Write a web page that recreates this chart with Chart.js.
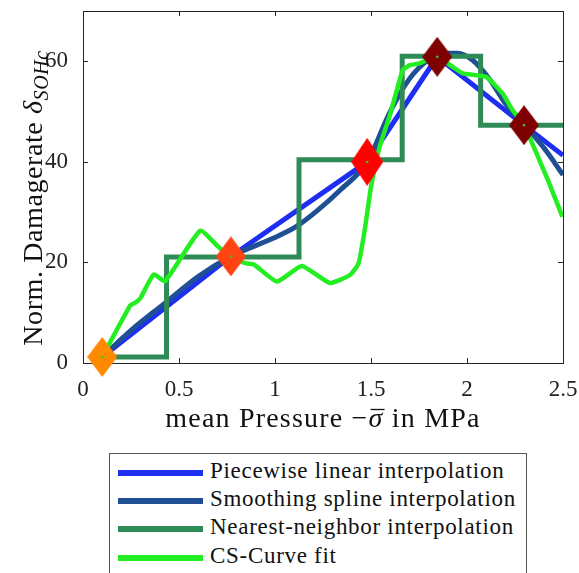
<!DOCTYPE html>
<html>
<head>
<meta charset="utf-8">
<script src="https://cdn.jsdelivr.net/npm/chart.js@4.4.1/dist/chart.umd.min.js"></script>
<style>
  html, body { margin: 0; padding: 0; background: #fff; }
  #wrap { position: relative; width: 579px; height: 573px; overflow: hidden; }
  #chart { position: absolute; left: 0; top: 0; }
  .legend {
    position: absolute; left: 109px; top: 453px; width: 418px; height: 130px;
    border: 1.5px solid #555; background: #fff; box-sizing: border-box;
    font-family: 'Liberation Serif', serif; font-size: 23px; letter-spacing: 0.7px; color: #111;
  }
  .legend .row { position: absolute; left: 0; width: 100%; height: 28px; }
  .legend .swatch { position: absolute; left: 8px; top: 11px; width: 85px; height: 6px; }
  .legend .label { position: absolute; left: 100px; top: -2px; line-height: 28px; white-space: nowrap; }
</style>
</head>
<body>
<div id="wrap">
  <canvas id="chart" width="579" height="573"></canvas>
  <div class="legend" id="legend"></div>
</div>
<script>
// axis ticks
const xTicks = [0, 0.5, 1, 1.5, 2, 2.5];
const yTicks = [0, 20, 40, 60];

// measured damage rates (diamonds)
const measX = [0.1, 0.77, 1.48, 1.845, 2.297];
const measY = [1.2, 21.2, 40, 60.9, 47.3];

// piecewise linear interpolation (extrapolated to 2.5)
const linX = [0.1, 0.77, 1.48, 1.845, 2.297, 2.5];
const linY = [1.2, 21.2, 40, 60.9, 47.3, 41.3];

// smoothing spline
const splX = [0.1, 0.25, 0.43, 0.6, 0.77, 0.99, 1.11, 1.22, 1.34, 1.48, 1.6, 1.7, 1.8, 1.89, 1.95, 2.03, 2.12, 2.2, 2.3, 2.41, 2.5];
const splY = [1.2, 6.5, 12, 17.2, 21.2, 24.8, 27.1, 30.3, 34.4, 40, 50, 56.5, 60.3, 61.6, 61.6, 60.2, 56.3, 51.6, 47.3, 42.3, 37.4];

// nearest neighbour (drawn as middle steps)
const nnX = [0.1, 0.77, 1.48, 1.845, 2.297, 2.5];
const nnY = [1.2, 21.1, 40.4, 61, 47.3, 47.3];

// CS-curve fit
const csX = [0.1, 0.247, 0.273, 0.299, 0.368, 0.428, 0.61, 0.705, 0.77, 0.85, 0.89, 1.01, 1.14, 1.285, 1.39, 1.435, 1.467, 1.5, 1.545, 1.6, 1.665, 1.7, 1.752, 1.844, 1.925, 1.977, 2.1, 2.185, 2.237, 2.297, 2.42, 2.497];
const csY = [1.2, 11.5, 12, 12.9, 17.6, 16.3, 26.3, 23.1, 21, 19.8, 19.6, 16.2, 19.3, 15.9, 17.5, 19.8, 26.4, 35, 43, 49.5, 58.2, 59.2, 59.6, 60.9, 58.9, 57.6, 56.9, 53.6, 50.3, 47.3, 36.5, 29.1];

const seriesNames = ['Piecewise linear interpolation', 'Smoothing spline interpolation', 'Nearest-neighbor interpolation', 'CS-Curve fit'];
const seriesColors = ['#1e2ff2', '#1f4f94', '#2e8b57', '#22ee22'];
const markerColors = ['#ff8a00', '#ff4412', '#ff0000', '#7f0000', '#7f0000'];
const markerSizes = [[15, 20], [15, 20], [16, 24], [15, 20], [15, 20]];

const SERIF = "'Liberation Serif', serif";

const toPts = (xs, ys) => xs.map((x, i) => ({ x: x, y: ys[i] }));

// diamond marker drawn into a small canvas, used as point style
function diamond(color, hw, hh) {
  const c = document.createElement('canvas');
  c.width = hw * 2; c.height = hh * 2;
  const g = c.getContext('2d');
  g.fillStyle = color;
  g.beginPath();
  g.moveTo(hw, 0); g.lineTo(hw * 2, hh); g.lineTo(hw, hh * 2); g.lineTo(0, hh);
  g.closePath(); g.fill();
  g.fillStyle = '#33cc33';
  g.beginPath(); g.arc(hw, hh, 1.3, 0, Math.PI * 2); g.fill();
  return c;
}
const markerImgs = markerColors.map((c, i) => diamond(c, markerSizes[i][0], markerSizes[i][1]));

// box with inward ticks on all four sides
const framePlugin = {
  id: 'frame',
  beforeDatasetsDraw(chart) {
    const { ctx, chartArea: a, scales } = chart;
    ctx.save();
    ctx.strokeStyle = '#262626';
    ctx.lineWidth = 1;
    ctx.strokeRect(Math.round(a.left) + 0.5, Math.round(a.top) + 0.5, Math.round(a.right - a.left), Math.round(a.bottom - a.top));
    const len = 5;
    ctx.beginPath();
    xTicks.forEach(v => {
      const px = Math.round(scales.x.getPixelForValue(v)) + 0.5;
      if (px <= a.left + 1 || px >= a.right - 1) return;
      ctx.moveTo(px, a.bottom); ctx.lineTo(px, a.bottom - len);
      ctx.moveTo(px, a.top); ctx.lineTo(px, a.top + len);
    });
    yTicks.forEach(v => {
      const py = Math.round(scales.y.getPixelForValue(v)) + 0.5;
      if (py <= a.top + 1 || py >= a.bottom - 1) return;
      ctx.moveTo(a.left, py); ctx.lineTo(a.left + len, py);
      ctx.moveTo(a.right, py); ctx.lineTo(a.right - len, py);
    });
    ctx.stroke();
    ctx.restore();
  }
};

// axis titles (overline on sigma, subscript on delta)
const titlePlugin = {
  id: 'titles',
  afterDraw(chart) {
    const { ctx, chartArea: a } = chart;
    ctx.save();
    ctx.fillStyle = '#111';
    ctx.strokeStyle = '#111';
    ctx.textBaseline = 'alphabetic';
    ctx.textAlign = 'left';

    // x title
    ctx.letterSpacing = '1.2px';
    const fX = '28px ' + SERIF;
    const fXi = 'italic 28px ' + SERIF;
    const p1 = 'mean Pressure \u2212', p2 = '\u03C3', p3 = ' in MPa';
    ctx.font = fX; const a1 = ctx.measureText(p1).width;
    ctx.font = fXi; const a2 = ctx.measureText(p2).width;
    ctx.font = fX; const a3 = ctx.measureText(p3).width;
    let xx = (a.left + a.right) / 2 - (a1 + a2 + a3) / 2;
    const base = 427;
    ctx.font = fX; ctx.fillText(p1, xx, base); xx += a1;
    ctx.font = fXi; ctx.fillText(p2, xx, base);
    ctx.lineWidth = 1.3;
    ctx.beginPath(); ctx.moveTo(xx + 2, base - 17.5); ctx.lineTo(xx + a2 + 1, base - 17.5); ctx.stroke();
    xx += a2;
    ctx.font = fX; ctx.fillText(p3, xx, base);

    // y title
    ctx.letterSpacing = '0.6px';
    const main = 'Norm. Damagerate ';
    const fMain = '28px ' + SERIF;
    const fIt = 'italic 28px ' + SERIF;
    const fSub = 'italic 20px ' + SERIF;
    ctx.font = fMain; const w1 = ctx.measureText(main).width;
    ctx.font = fIt; const w2 = ctx.measureText('\u03B4').width;
    ctx.font = fSub; const w3 = ctx.measureText('SOHc').width;
    const total = w1 + w2 + w3;
    ctx.translate(42, (a.top + a.bottom) / 2 + 11);
    ctx.rotate(-Math.PI / 2);
    let x0 = -total / 2;
    ctx.font = fMain; ctx.fillText(main, x0, 0); x0 += w1;
    ctx.font = fIt; ctx.fillText('\u03B4', x0, 0); x0 += w2;
    ctx.font = fSub; ctx.fillText('SOHc', x0, 6);
    ctx.restore();
  }
};

const noPad = s => { s.paddingTop = 0; s.paddingBottom = 0; s.paddingLeft = 0; s.paddingRight = 0; };

const ctx = document.getElementById('chart').getContext('2d');
new Chart(ctx, {
  type: 'line',
  data: {
    datasets: [
      {
        label: seriesNames[0], data: toPts(linX, linY),
        borderColor: seriesColors[0], borderWidth: 5, pointRadius: 0, tension: 0, order: 4
      },
      {
        label: seriesNames[1], data: toPts(splX, splY),
        borderColor: seriesColors[1], borderWidth: 5, pointRadius: 0,
        cubicInterpolationMode: 'monotone', order: 3
      },
      {
        label: seriesNames[2], data: toPts(nnX, nnY),
        borderColor: seriesColors[2], borderWidth: 5, pointRadius: 0, stepped: 'middle', order: 2
      },
      {
        label: seriesNames[3], data: toPts(csX, csY),
        borderColor: seriesColors[3], borderWidth: 4.5, pointRadius: 0, tension: 0.15, order: 1
      },
      {
        label: 'measured', data: toPts(measX, measY),
        showLine: false, pointRadius: 15, pointStyle: markerImgs, clip: false, order: 0
      }
    ]
  },
  options: {
    responsive: false,
    animation: false,
    events: [],
    layout: { autoPadding: false, padding: { left: 0, right: 16, top: 11, bottom: 170 } },
    plugins: { legend: { display: false }, tooltip: { enabled: false } },
    scales: {
      x: {
        type: 'linear', min: 0, max: 2.5,
        grid: { display: false }, border: { display: false },
        afterBuildTicks: s => { s.ticks = xTicks.map(v => ({ value: v })); },
        afterFit: s => { s.height = 40; noPad(s); },
        ticks: {
          padding: 5, maxRotation: 0, color: '#222',
          font: { family: SERIF, size: 23 },
          callback: v => String(v)
        }
      },
      y: {
        type: 'linear', min: 0, max: 70,
        grid: { display: false }, border: { display: false },
        afterBuildTicks: s => { s.ticks = yTicks.map(v => ({ value: v })); },
        afterFit: s => { s.width = 83; noPad(s); },
        ticks: {
          padding: 7, color: '#222',
          font: { family: SERIF, size: 23 },
          callback: v => String(v)
        }
      }
    }
  },
  plugins: [framePlugin, titlePlugin]
});

// legend box below the plot
const legend = document.getElementById('legend');
const rowCenters = [18.7, 47, 75.3, 103.7];
seriesNames.forEach((name, i) => {
  const row = document.createElement('div');
  row.className = 'row';
  row.style.top = (rowCenters[i] - 14) + 'px';
  row.innerHTML = '<div class="swatch" style="background:' + seriesColors[i] + '"></div>' +
    '<div class="label">' + name + '</div>';
  legend.appendChild(row);
});
</script>
</body>
</html>
